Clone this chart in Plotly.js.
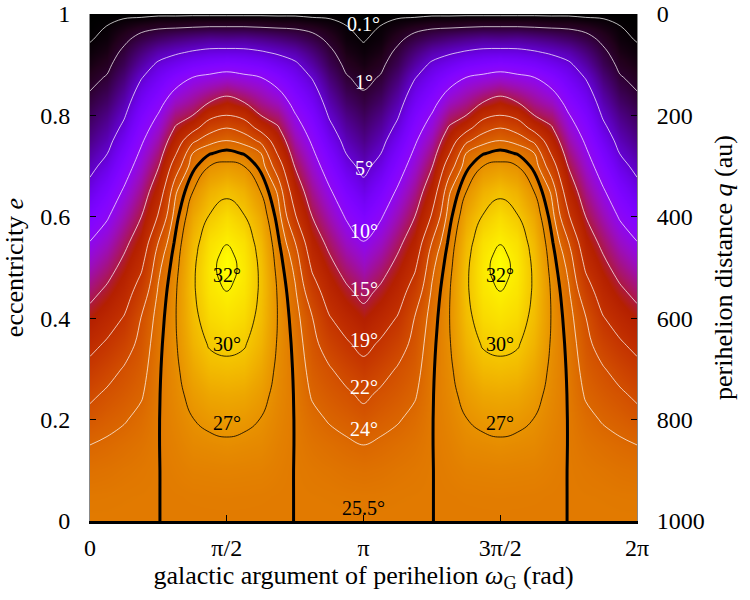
<!DOCTYPE html>
<html>
<head>
<meta charset="utf-8">
<script src="https://cdn.plot.ly/plotly-3.0.1.min.js"></script>
<style>html,body{margin:0;padding:0;background:#fff}</style>
</head>
<body>
<div id="chart" style="width:750px;height:600px"></div>
<script>
const PI = Math.PI;

// Galactic argument of perihelion over one quarter period, in units of pi (0 .. pi/2).
// The field repeats with period pi and is mirror-symmetric about pi/2.
const omegaQuarter = [0, 0.0625, 0.125, 0.1875, 0.25, 0.3125, 0.375, 0.4375, 0.5];

// Eccentricity samples (rows)
const eccentricity = [0, 0.05, 0.1, 0.15, 0.2, 0.25, 0.3, 0.35, 0.4, 0.45, 0.475, 0.5, 0.525,
  0.55, 0.6, 0.65, 0.7, 0.725, 0.75, 0.775, 0.8, 0.825, 0.85, 0.875, 0.9, 0.925, 0.95, 0.975,
  0.99, 1];

// Inclination (deg); one row per eccentricity, one column per omegaQuarter value
const inclination = [
  [25.5, 25.5, 25.5, 25.5, 25.499, 25.51, 25.51, 25.51, 25.51],
  [25.33, 25.36, 25.42, 25.45, 25.495, 25.55, 25.6, 25.63, 25.65],
  [24.82, 24.95, 25.15, 25.3, 25.48, 25.7, 25.95, 26.0, 26.05],
  [24.0, 24.3, 24.65, 25.0, 25.47, 25.9, 26.45, 26.6, 26.75],
  [22.87, 23.4, 23.85, 24.5, 25.45, 26.15, 26.95, 27.4, 27.55],
  [21.49, 22.4, 23.05, 23.8, 25.4, 26.4, 27.6, 28.3, 28.45],
  [19.88, 21.0, 22.2, 23.25, 25.3, 26.6, 28.3, 29.3, 29.5],
  [18.09, 19.35, 20.8, 22.7, 25.1, 26.8, 28.95, 30.2, 30.5],
  [16.17, 17.6, 19.2, 22.1, 24.76, 26.9, 29.45, 30.9, 31.3],
  [14.15, 15.7, 17.6, 20.5, 24.27, 26.8, 29.7, 31.4, 31.95],
  [13.11, 14.72, 16.78, 19.55, 23.92, 26.65, 29.72, 31.55, 32.35],
  [12.1, 13.75, 15.95, 18.6, 23.55, 26.4, 29.65, 31.6, 32.6],
  [11.09, 12.73, 15.08, 17.7, 22.98, 26.15, 29.48, 31.45, 32.4],
  [10.07, 11.7, 14.2, 16.8, 22.0, 25.8, 29.2, 31.2, 31.9],
  [8.0, 9.7, 12.3, 15.0, 19.3, 24.9, 28.3, 30.15, 31.0],
  [5.9, 7.8, 10.4, 13.2, 17.0, 23.7, 26.95, 28.8, 29.6],
  [4.3, 5.85, 8.5, 11.4, 14.8, 20.6, 25.0, 27.0, 27.5],
  [3.6, 4.95, 7.55, 10.5, 13.6, 18.7, 24.0, 25.4, 26.0],
  [2.95, 4.2, 6.6, 9.6, 12.5, 17.0, 21.5, 23.4, 24.1],
  [2.4, 3.5, 5.6, 8.7, 11.3, 15.3, 17.9, 21.0, 22.0],
  [1.85, 2.85, 4.75, 7.75, 10.2, 13.6, 15.0, 18.1, 19.1],
  [1.38, 2.2, 4.0, 6.8, 9.0, 11.9, 13.3, 15.1, 16.4],
  [0.97, 1.6, 3.25, 5.85, 7.8, 10.2, 11.7, 12.8, 13.7],
  [0.64, 1.1, 2.5, 4.85, 6.6, 8.4, 10.0, 10.6, 11.1],
  [0.38, 0.7, 1.8, 3.7, 5.45, 6.5, 7.6, 8.2, 8.6],
  [0.19, 0.42, 1.25, 2.6, 3.9, 4.6, 5.2, 5.6, 5.7],
  [0.072, 0.21, 0.75, 1.45, 2.1, 2.6, 3.0, 3.3, 3.2],
  [0.013, 0.11, 0.35, 0.6, 0.75, 0.8, 0.9, 1.0, 1.0],
  [0.0014, 0.03, 0.11, 0.15, 0.25, 0.25, 0.3, 0.3, 0.3],
  [0, 0, 0, 0, 0, 0, 0, 0, 0]
];

// Contour levels (deg)
const whiteLevels = [0.1, 1, 5, 10, 15, 19, 22, 24];
const boundaryLevel = 25.5;
const blackLevels = [27, 30, 32];

// Label placement: eccentricity of each level label
const whiteLabelE = [0.980, 0.865, 0.696, 0.572, 0.458, 0.357, 0.265, 0.181];
const boundaryLabelE = 0.025;
const blackLabelE = [0.193, 0.350, 0.485];
const blackLabelOmega = [0.5, 1.5];   // units of pi
const centreLabelOmega = 1;           // units of pi

// Axis ticks
const omegaTicks = [0, 0.5, 1, 1.5, 2];            // units of pi
const omegaTickText = ['0', 'π/2', 'π', '3π/2', '2π'];
const eccTicks = [0, 0.2, 0.4, 0.6, 0.8, 1];
const perihelionTicks = [0, 200, 400, 600, 800, 1000];
const semiMajorAxis = 1000; // au

// Unfold the quarter-period table over 0 .. 2pi
const step = omegaQuarter[1];
const nQuarter = omegaQuarter.length - 1;
const omega = [];
const z = eccentricity.map(() => []);
for (let j = 0; j <= 4 * nQuarter; j++) {
  const q = j % (2 * nQuarter);
  const k = q <= nQuarter ? q : 2 * nQuarter - q;
  omega.push(j * step * PI);
  inclination.forEach((row, i) => z[i].push(row[k]));
}

// gnuplot-style palette (rgbformulae 7,5,15)
const palette = [];
for (let i = 0; i <= 60; i++) {
  const t = i / 60;
  const r = Math.sqrt(t), g = t * t * t, b = Math.max(0, Math.sin(2 * PI * t));
  palette.push([t, `rgb(${Math.round(255 * r)},${Math.round(255 * g)},${Math.round(255 * b)})`]);
}
const zTop = Math.max(...inclination.flat());

const traces = [{
  type: 'heatmap', x: omega, y: eccentricity, z: z,
  colorscale: palette, zmin: 0, zmax: zTop, zsmooth: 'best',
  showscale: false, hoverinfo: 'skip'
}];

function levelTrace(level, color, width, smoothing) {
  return {
    type: 'contour', x: omega, y: eccentricity, z: z,
    autocontour: false,
    contours: {start: level, end: level, size: 1, coloring: 'none', showlabels: false},
    line: {color: color, width: width, smoothing: smoothing},
    showscale: false, hoverinfo: 'skip'
  };
}
whiteLevels.forEach(L => traces.push(levelTrace(L, 'rgba(255,255,255,0.9)', 0.8, 1)));
blackLevels.forEach(L => traces.push(levelTrace(L, '#000', 0.8, 1.3)));
traces.push(levelTrace(boundaryLevel, '#000', 3, 1));

// keeps the perihelion-distance axis on the right
traces.push({type: 'scatter', x: [], y: [], yaxis: 'y2', showlegend: false, hoverinfo: 'skip'});

const serif = 'Liberation Serif, DejaVu Serif, serif';
const labelFont = {family: serif, size: 20};
const annotations = [];
whiteLevels.forEach((L, i) => annotations.push({
  x: centreLabelOmega * PI, y: whiteLabelE[i], xref: 'x', yref: 'y', showarrow: false,
  text: L + '°', font: Object.assign({color: '#fff'}, labelFont)
}));
annotations.push({
  x: centreLabelOmega * PI, y: boundaryLabelE, xref: 'x', yref: 'y', showarrow: false,
  text: boundaryLevel + '°', font: Object.assign({color: '#000'}, labelFont)
});
blackLabelOmega.forEach(w => blackLevels.forEach((L, i) => annotations.push({
  x: w * PI, y: blackLabelE[i], xref: 'x', yref: 'y', showarrow: false,
  text: L + '°', font: Object.assign({color: '#000'}, labelFont)
})));

const tickFont = {family: serif, size: 24, color: '#000'};
const titleFont = {family: serif, size: 26, color: '#000'};

const layout = {
  width: 750, height: 600,
  margin: {l: 90, r: 113, t: 14, b: 79, pad: 0},
  paper_bgcolor: '#fff', plot_bgcolor: '#fff',
  font: tickFont,
  showlegend: false,
  xaxis: {
    range: [0, 2 * PI], tickvals: omegaTicks.map(v => v * PI), ticktext: omegaTickText,
    ticks: 'inside', ticklen: 6, tickcolor: '#000', tickfont: tickFont,
    showline: true, linecolor: '#000', linewidth: 3, showgrid: false, zeroline: false,
    ticklabelstandoff: 3,
    title: {text: 'galactic argument of perihelion <i>ω</i><sub>G</sub> (rad)', font: titleFont, standoff: 5}
  },
  yaxis: {
    range: [0, 1], tickvals: eccTicks, ticks: 'inside', ticklen: 6, tickcolor: '#000',
    tickfont: tickFont, showline: true, linecolor: '#888', linewidth: 1,
    showgrid: false, zeroline: false, ticklabelstandoff: 14,
    title: {text: 'eccentricity <i>e</i>', font: titleFont, standoff: 10}
  },
  yaxis2: {
    overlaying: 'y', side: 'right', range: [semiMajorAxis, 0], tickvals: perihelionTicks,
    ticks: 'inside', ticklen: 6, tickcolor: '#000', tickfont: tickFont,
    showline: true, linecolor: '#888', linewidth: 1, showgrid: false, zeroline: false,
    ticklabelstandoff: 14,
    title: {text: 'perihelion distance <i>q</i> (au)', font: titleFont, standoff: 10}
  },
  annotations: annotations
};

Plotly.newPlot('chart', traces, layout, {displayModeBar: false, staticPlot: true});
</script>
</body>
</html>
